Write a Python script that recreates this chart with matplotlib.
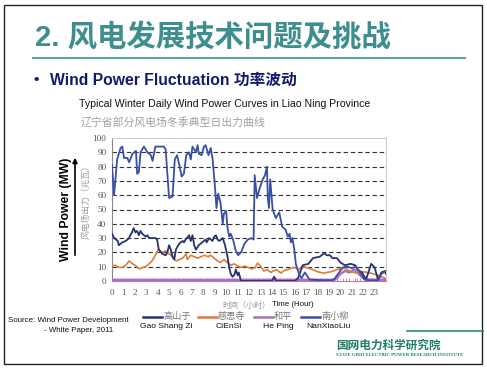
import matplotlib
matplotlib.use("Agg")
import matplotlib.pyplot as plt
from matplotlib.lines import Line2D
from matplotlib.patches import Rectangle, FancyArrowPatch

plt.rcParams['font.family'] = ['Liberation Sans', 'Noto Sans CJK SC', 'DejaVu Sans']

W, H = 487, 373

# ---------------- data (hour, MW) ----------------
nxl_h = [0, 0.18, 0.45, 0.75, 0.9, 1.05, 1.35, 1.5, 1.8, 2.1, 2.2, 2.35, 2.5, 2.8, 3.1, 3.4, 3.55, 3.8,
         4.55, 4.7, 4.85, 5.0, 5.3, 5.5, 5.7, 5.9, 6.1, 6.3, 6.5, 6.75, 6.9, 7.05, 7.35, 7.5, 7.6, 7.85,
         8.05, 8.2, 8.45, 8.65, 8.8, 9.0, 9.15, 9.3, 9.5, 9.7, 9.8, 10.0, 10.1, 10.27, 10.4, 10.6, 10.85,
         11.05, 11.3, 11.6, 11.9, 12.2, 12.4, 12.5, 12.7, 12.9, 13.2, 13.4, 13.57, 13.65, 13.75, 13.86,
         14.07, 14.35, 14.65, 14.9, 15.2, 15.4, 15.55, 15.67, 15.8, 15.97, 16.1, 16.4, 16.6, 16.9, 17.3,
         18.5, 19.4, 19.8, 20.2, 20.6, 21.0, 21.4, 21.8, 22.1, 22.5, 23.3, 23.6, 24.0]
nxl_v = [81, 60, 85, 93, 94, 86, 86, 83, 89, 91, 75, 76, 90, 94, 90, 88, 84, 94,
         94, 92, 75, 58, 59, 85, 88, 81, 73, 75, 88, 90, 85, 94, 90, 95, 89, 88,
         94, 95, 88, 93, 86, 68, 51, 61, 55, 40, 47, 49, 38, 31, 33, 29, 21,
         18, 20, 26, 29, 30, 29, 74, 58, 64, 71, 74, 80, 58, 51, 71,
         50, 44, 48, 38, 36, 31, 33, 27, 30, 22, 12, 4.5, 2, 6, 1,
         0.5, 0.5, 5, 9.5, 10, 9, 10, 5, 1, 0.5, 0.5, 5, 7]

gsz_h = [0, 0.2, 0.5, 0.6, 0.9, 1.2, 1.5, 1.6, 1.75, 1.9, 2.05, 2.2, 2.35, 2.5, 2.65, 2.95, 3.1, 3.25,
         3.5, 3.8, 3.95, 4.1, 4.4, 4.7, 4.85, 5.0, 5.15, 5.3, 5.45, 5.6, 5.8, 6.0, 6.2, 6.3, 6.45, 6.75,
         6.9, 7.05, 7.2, 7.35, 7.6, 7.9, 8.2, 8.3, 8.5, 8.8, 8.95, 9.1, 9.25, 9.4, 9.7, 9.9, 10.1, 10.25,
         10.4, 10.55, 10.7, 10.85, 11.0, 11.1, 11.3, 14.0, 14.2, 14.4, 16.0, 16.3, 16.7, 17.2, 17.6, 18.2,
         18.6, 18.8, 19.1, 19.3, 19.7, 20.0, 20.4, 20.9, 21.3, 21.5, 21.9, 22.25, 22.7, 23.0, 23.3, 23.6,
         23.9, 24.0]
gsz_v = [33, 30, 28, 25, 27, 28, 30, 32, 34, 37, 34, 35, 32, 35, 33, 31, 32, 30,
         30, 30, 29, 22, 19, 18, 20, 25, 22, 17, 15, 22, 25, 27, 28, 27, 29, 32,
         28, 32, 25, 22, 25, 27, 29, 27, 30, 28, 31, 32, 29, 28, 30, 25, 18, 10,
         5, 3, 4, 8, 4, 6, 0, 0, 3, 0, 0, 2, 11, 12, 16, 17,
         19.5, 18, 18, 16, 16, 13, 11, 12, 11, 8, 6, 1, 12, 9.5, 1, 6,
         7, 5]

ces_h = [0, 0.3, 0.6, 0.9, 1.2, 1.5, 1.8, 2.1, 2.4, 2.7, 2.95, 3.25, 3.5, 3.8, 4.05, 4.4, 4.7, 5.0,
         5.3, 5.6, 5.9, 6.2, 6.5, 6.6, 6.9, 7.2, 7.5, 7.8, 8.1, 8.4, 8.65, 8.95, 9.25, 9.5, 9.8, 10.1,
         10.4, 10.7, 11.0, 11.3, 11.6, 12.2, 12.5, 12.75, 13.0, 13.3, 13.6, 13.9, 14.4, 14.8, 15.1, 15.4,
         15.7, 16.0, 16.3, 16.8, 17.2, 17.6, 18.0, 18.5, 19.2, 19.7, 20.4, 20.9, 21.5, 22.0, 22.7, 23.3,
         23.9, 24.0]
ces_v = [10.5, 11, 9.5, 9.5, 11, 14, 12, 10.5, 8.5, 9.5, 10, 12, 14, 18, 22, 20, 21, 19,
         17, 14, 15, 16, 19, 15, 18, 17, 16, 17, 18, 17, 18, 16, 14, 13, 15, 13,
         11, 12, 10.5, 9.5, 10.5, 8.6, 9, 12.5, 10.5, 7, 8, 6, 8, 5.5, 7.5, 8,
         9, 9.5, 8, 10, 9, 8, 6.5, 5.5, 6.5, 8, 9, 6.5, 5.5, 6.5, 5.5, 4,
         2, 1.5]

hp_h = [0, 19.3, 19.7, 20.0, 20.4, 20.8, 21.2, 21.6, 22.0, 22.4, 24.0]
hp_v = [0.8, 0.8, 2, 5, 7, 6, 8, 5, 2, 1, 0.8]

series_cn = ['高山子', '慈恩寺', '和平', '南小柳']
series_en = ['Gao Shang Zi', 'CiEnSi', 'He Ping', 'NanXiaoLiu']
colors = ['#26336e', '#e07b3c', '#a873bf', '#3a4fa6']
x_ticks = list(range(24))
y_ticks = list(range(0, 101, 10))

# ---------------- figure ----------------
fig = plt.figure(figsize=(W / 100, H / 100), dpi=100)


def fx(x):
    return x / W


def fy(y):
    return 1 - y / H


# slide border
fig.patches.append(Rectangle((fx(4), fy(364)), fx(482) - fx(4), fy(5) - fy(364),
                             transform=fig.transFigure, fill=False, edgecolor='#222222', lw=1.0))

teal = '#3d8f8f'
fig.text(fx(35), fy(37), '2. 风电发展技术问题及挑战', color=teal, fontsize=21.2, fontweight='bold',
         family=['Liberation Sans', 'Noto Sans CJK SC'], ha='left', va='center')
fig.add_artist(Line2D([fx(33), fx(465)], [fy(58), fy(58)], transform=fig.transFigure,
                      color='#5ea3a3', lw=1.5))

navy = '#141a6b'
fig.text(fx(33), fy(80), '•', color=navy, fontsize=11, fontweight='bold', ha='left', va='center')
fig.text(fx(50), fy(80), 'Wind Power Fluctuation 功率波动', color=navy, fontsize=11.3,
         fontweight='bold', family=['Liberation Sans', 'Noto Sans CJK SC'], ha='left', va='center')

fig.text(fx(79), fy(104), 'Typical Winter Daily Wind Power Curves in Liao Ning Province',
         color='#111111', fontsize=7.6, ha='left', va='center')
fig.text(fx(81), fy(122), '辽宁省部分风电场冬季典型日出力曲线', color='#a0a0a0', fontsize=7.8,
         family=['Noto Sans CJK SC'], ha='left', va='center')

# ---------------- axes ----------------
ax = fig.add_axes([fx(112), fy(281), fx(386) - fx(112), fy(138) - fy(281)])
series_h = [gsz_h, ces_h, hp_h, nxl_h]
series_v = [gsz_v, ces_v, hp_v, nxl_v]
lws = [1.3, 1.2, 1.8, 1.3]
order = [2, 1, 0, 3]
for i in order:
    ax.plot(series_h[i], series_v[i], color=colors[i], lw=lws[i], zorder=3 + (i == 3))

ax.set_xlim(0, 24)
ax.set_ylim(0, 100)
ax.set_xticks(x_ticks)
ax.set_xticklabels([str(t) for t in x_ticks])
ax.set_yticks(y_ticks)
ax.set_yticklabels([str(t) for t in y_ticks])
ax.set_xticks([i / 4 for i in range(97)], minor=True)
ax.tick_params(axis='x', which='major', length=0, pad=6, labelsize=6.6, labelcolor='#555555')
ax.tick_params(axis='x', which='minor', length=2, direction='in', color='#c070c0', width=0.6)
ax.tick_params(axis='y', which='major', length=0, pad=4, labelsize=6.6, labelcolor='#555555')
for lab in ax.get_xticklabels() + ax.get_yticklabels():
    lab.set_family('Liberation Serif')
for yv in y_ticks[1:-1]:
    ax.axhline(yv, color='#333333', lw=0.8, ls=(0, (4, 2.5)), zorder=1)
ax.spines['left'].set_color('#888888')
ax.spines['top'].set_color('#cccccc')
ax.spines['right'].set_color('#cccccc')
ax.spines['bottom'].set_color('#c070c0')
for s in ax.spines.values():
    s.set_linewidth(0.8)

# y labels
fig.text(fx(66), fy(209), 'Wind Power (MW)', rotation=90, color='black', fontsize=8.8,
         fontweight='bold', ha='center', va='center')
fig.patches.append(FancyArrowPatch((fx(75), fy(258)), (fx(75), fy(155)), transform=fig.transFigure,
                                   arrowstyle='-|>', mutation_scale=7, color='black', lw=1.2))
fig.text(fx(86), fy(200), '风电场出力（兆瓦）', rotation=90, color='#9a9a9a', fontsize=6.3,
         family=['Noto Sans CJK SC'], ha='center', va='center')

# x labels
fig.text(fx(222), fy(305), '时间（小时）', color='#9a9a9a', fontsize=5.8,
         family=['Noto Sans CJK SC'], ha='left', va='center')
fig.text(fx(272), fy(305), 'Time (Hour)', color='#111111', fontsize=5.7, ha='left', va='center')

# legend
leg_x = [143, 198, 254, 301]
en_cx = [166, 229, 278, 328]
for i in range(4):
    fig.add_artist(Line2D([fx(leg_x[i]), fx(leg_x[i] + 19)], [fy(316.5), fy(316.5)],
                          transform=fig.transFigure, color=colors[i], lw=1.8))
    fig.text(fx(leg_x[i] + 20), fy(316.5), series_cn[i], color='#777777', fontsize=6.6,
             family=['Noto Sans CJK SC'], ha='left', va='center')
    fig.text(fx(en_cx[i]), fy(327), series_en[i], color='#111111', fontsize=6.1,
             ha='center', va='center')

# source
fig.text(fx(8), fy(320), 'Source: Wind Power Development', color='#111111', fontsize=5.7,
         ha='left', va='center')
fig.text(fx(44), fy(330), '- White Paper, 2011', color='#111111', fontsize=5.7,
         ha='left', va='center')

# logo
fig.add_artist(Line2D([fx(407), fx(483)], [fy(331), fy(331)], transform=fig.transFigure,
                      color='#2e8b7a', lw=1.2))
fig.text(fx(336), fy(345), '国网电力科学研究院', color='#1f7d6a', fontsize=8.4, fontweight='bold',
         family=['Noto Sans CJK SC'], ha='left', va='center')
fig.text(fx(336), fy(354.5), 'STATE GRID ELECTRIC POWER RESEARCH INSTITUTE', color='#1f7d6a',
         fontsize=3.4, fontweight='bold', family=['Liberation Serif'], ha='left', va='center')

fig.savefig('out.png', dpi=100)
